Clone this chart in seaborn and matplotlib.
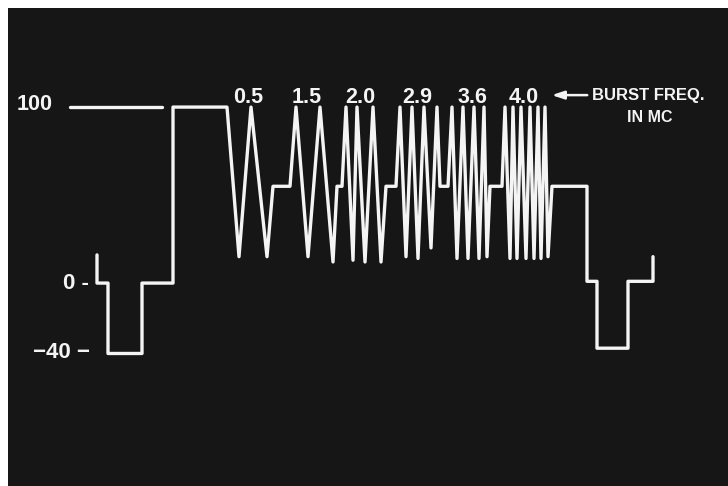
import matplotlib
matplotlib.use("Agg")
import matplotlib.pyplot as plt
import seaborn as sns
import pandas as pd

# sweep position along the scope trace and level in IRE units
trace_t = [97, 97, 108, 108, 142, 142, 173, 173, 227,
           239, 251, 267, 273, 290,
           296, 308, 320, 333, 337, 342,
           346, 353, 357, 365, 373, 381, 386, 396,
           400, 406, 412, 418, 424, 431, 437, 440, 448,
           452, 457, 463, 468, 474, 479, 484, 487, 490, 502,
           505, 510, 513, 517, 521, 526, 530, 534, 538, 541, 545, 548, 552,
           587, 587, 597, 597, 628, 628, 653, 653]
trace_ire = [16, 0, 0, -40, -40, 0, 0, 100, 100,
             15, 100, 15, 55, 55,
             100, 15, 100, 12, 55, 55,
             100, 13, 100, 12, 100, 12, 55, 55,
             100, 15, 100, 14, 100, 20, 100, 55, 55,
             100, 14, 100, 14, 100, 14, 100, 15, 55, 55,
             100, 14, 100, 14, 100, 14, 100, 14, 100, 14, 100, 15, 55,
             55, 1, 1, -37, -37, 1, 1, 15]

# white reference line at top left
ref_t = [70, 162]
ref_ire = [100, 100]

burst_labels = ["0.5", "1.5", "2.0", "2.9", "3.6", "4.0"]
burst_label_t = [248, 307, 360, 417, 472, 524]
level_labels = ["100", "0 -", "\u221240 \u2212"]
level_values = [100, 0, -40]

trace = pd.DataFrame({"t": trace_t, "ire": trace_ire})
ref = pd.DataFrame({"t": ref_t, "ire": ref_ire})

sns.set_theme(style="dark", rc={"axes.facecolor": "#161616",
                                "figure.facecolor": "white"})
plt.rcParams['font.family'] = ['Liberation Sans', 'DejaVu Sans']

fig = plt.figure(figsize=(7.28, 4.86), dpi=100)
ax = fig.add_axes([8 / 728, 0, 720 / 728, 478 / 486])

line_color = "#f4f4f4"
sns.lineplot(data=trace, x="t", y="ire", sort=False, estimator=None,
             color=line_color, linewidth=2.4, ax=ax)
sns.lineplot(data=ref, x="t", y="ire", sort=False, estimator=None,
             color=line_color, linewidth=2.4, ax=ax)

ax.set_xlim(8, 728)
ax.set_ylim(-115.3, 156.3)
ax.set_xticks([])
ax.set_yticks([])
ax.set_xlabel("")
ax.set_ylabel("")
for s in ax.spines.values():
    s.set_visible(False)

# burst frequency labels
for lab, x in zip(burst_labels, burst_label_t):
    ax.text(x, 105.5, lab, color=line_color, fontsize=15.5, fontweight="bold",
            ha="center", va="center")

# level labels on the left
ax.text(35, 101.5, level_labels[0], color=line_color, fontsize=15.5,
        fontweight="bold", ha="center", va="center")
ax.text(76, level_values[1] - 0.5, level_labels[1], color=line_color,
        fontsize=16, fontweight="bold", ha="center", va="center")
ax.text(61, level_values[2] + 0.8, level_labels[2], color=line_color,
        fontsize=16, fontweight="bold", ha="center", va="center")

# arrow + caption
ax.annotate("", xy=(549, 106.8), xytext=(590, 106.8),
            arrowprops=dict(arrowstyle="-|>,head_length=0.6,head_width=0.2",
                            color=line_color, lw=1.8))
ax.text(648, 106.8, "BURST FREQ.", color=line_color, fontsize=12,
        fontweight="bold", ha="center", va="center")
ax.text(650, 93.8, "IN MC", color=line_color, fontsize=11.5,
        fontweight="bold", ha="center", va="center")

plt.savefig("out.png", dpi=100)
